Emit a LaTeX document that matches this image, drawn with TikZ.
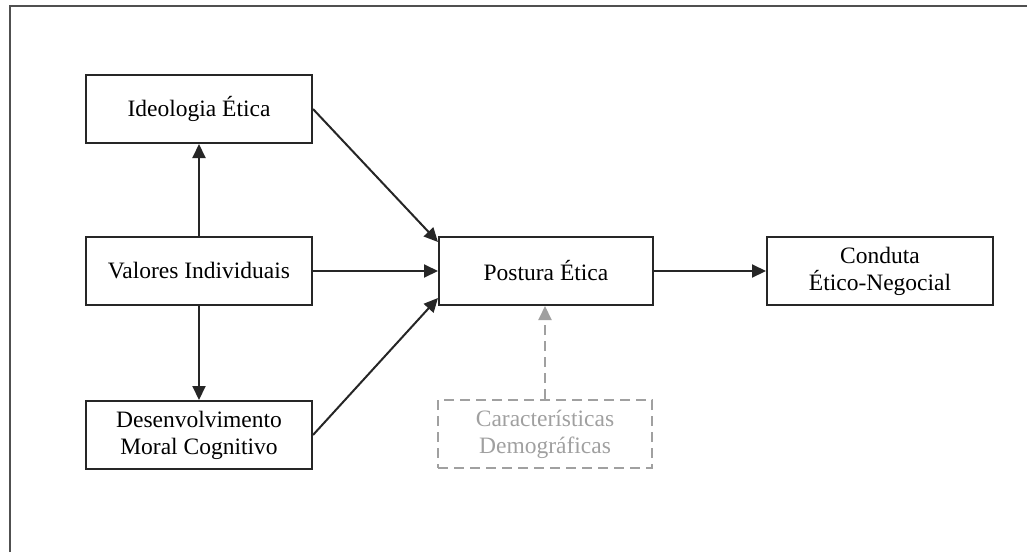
\documentclass[tikz,border=0pt]{standalone}
\usepackage{fontspec}
\setmainfont{Liberation Serif}
\usetikzlibrary{arrows.meta,calc}
\definecolor{frame}{RGB}{80,80,80}
\definecolor{softgray}{RGB}{160,160,160}
\begin{document}
\begin{tikzpicture}[x=1pt,y=-1pt,
  box/.style={draw=black!85,line width=2pt,minimum width=226pt,minimum height=68pt,
    align=center,font=\fontsize{23.5}{27}\selectfont,inner sep=0pt},
  dbox/.style={box,draw=softgray,text=softgray,dash pattern=on 10pt off 6pt},
  arr/.style={draw=black!85,line width=2pt,-{Triangle[length=14pt,width=13pt]}},
  darr/.style={arr,draw=softgray,dash pattern=on 10pt off 6pt,-{Triangle[length=14pt,width=13pt,fill=softgray]}}]
\useasboundingbox (0,0) rectangle (1027,552);
\draw[frame,line width=2.2pt] (10,552) -- (10,6) -- (1027,6);
\node[box] (ideo) at (199,109) {Ideologia Ética};
\node[box] (val) at (199,271) {Valores Individuais};
\node[box] (des) at (199,435) {Desenvolvimento\\Moral Cognitivo};
\node[box,minimum width=214pt] (post) at (546,271) {Postura Ética};
\node[box] (cond) at (880,271) {Conduta\\Ético-Negocial};
\node[dbox,minimum width=214pt] (car) at (545,434) {Características\\Demográficas};
\draw[arr] (val) -- (ideo);
\draw[arr] (val) -- (des);
\draw[arr] (ideo.east) -- ($(post.north west)+(0,6)$);
\draw[arr] (val) -- (post);
\draw[arr] (des.east) -- ($(post.south west)+(0,-8)$);
\draw[arr] (post) -- (cond);
\draw[darr] (car.north) -- (car.north |- post.south);
\end{tikzpicture}
\end{document}
